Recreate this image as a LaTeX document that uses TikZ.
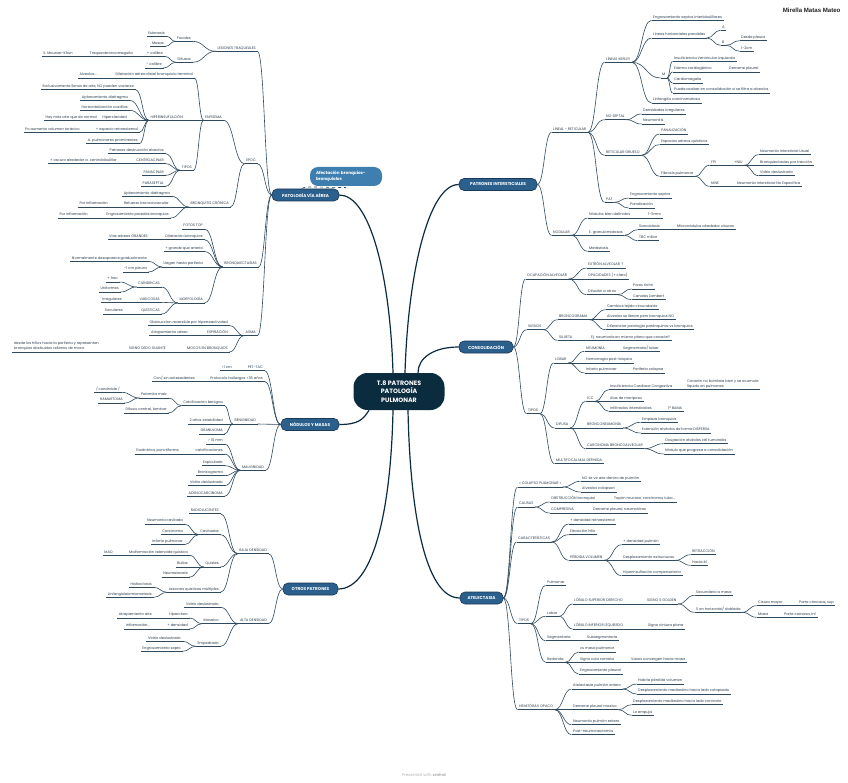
\documentclass[tikz,border=0pt]{standalone}
\usepackage{fontspec}
\setmainfont{Poppins}
\newfontfamily\namefont{Liberation Sans}
\newfontfamily\symfont{DejaVu Sans}
\usetikzlibrary{calc}
\definecolor{txt}{HTML}{2D3E4E}
\definecolor{lnc}{HTML}{2F4A5F}
\definecolor{topicfill}{HTML}{2B5F8C}
\definecolor{topicdraw}{HTML}{1B3A57}
\definecolor{rootfill}{HTML}{0B2B3F}
\definecolor{calfill}{HTML}{3F7FB0}
\definecolor{namec}{HTML}{222222}
\tikzset{
  uln/.style={draw=lnc, line width=0.6pt},
  con/.style={draw=lnc, line width=0.6pt},
  rcon/.style={draw=rootfill, line width=1.2pt},
  lf/.style={font=\fontsize{3.6}{4}\selectfont, text=txt, inner xsep=1.5pt, inner ysep=1.1pt,
    text height=2.6pt, text depth=0.8pt,
    append after command={(\tikzlastnode.south west) edge[uln] (\tikzlastnode.south east)}},
  lf2/.style={font=\fontsize{3.6}{5}\selectfont, text=txt, inner xsep=1.5pt, inner ysep=1.1pt, align=left,
    append after command={(\tikzlastnode.south west) edge[uln] (\tikzlastnode.south east)}},
  topic/.style={font=\fontsize{4.2}{5}\selectfont\bfseries, text=white, fill=topicfill, draw=topicdraw,
    line width=0.6pt, rounded corners=5pt, minimum height=12pt, inner xsep=4pt, inner ysep=1pt},
  rootbox/.style={font=\fontsize{6.3}{8.5}\selectfont\bfseries, text=white, fill=rootfill,
    rounded corners=14pt, minimum width=91pt, minimum height=37pt, align=center},
  callout/.style={font=\fontsize{4.2}{5.6}\selectfont\bfseries, text=white, fill=calfill,
    rounded corners=8pt, minimum height=19pt, text width=60pt, inner xsep=6pt, align=left},
}
\newcommand\nR[4]{\node[lf,anchor=south west] (#1) at ($(#2,#3)+(-1.5,3)$) {#4};}
\newcommand\nL[4]{\node[lf,anchor=south east] (#1) at ($(#2,#3)+(1.5,3)$) {#4};}
\newcommand\mmR[2]{\draw[con] let \p1=(#1), \p2=(#2.south west) in (\p1) .. controls ({(\x1+\x2)/2},\y1) and ({(\x1+\x2)/2},\y2) .. (\p2);}
\newcommand\mmL[2]{\draw[con] let \p1=(#1), \p2=(#2.south east) in (\p1) .. controls ({(\x1+\x2)/2},\y1) and ({(\x1+\x2)/2},\y2) .. (\p2);}
\begin{document}
\begin{tikzpicture}[x=1pt,y=-1pt]
\useasboundingbox (0,0) rectangle (848,783);
\fill[white] (0,0) rectangle (848,783);

% ---------- root and topics ----------
\node[rootbox] (root) at (399,391.5) {T.8 PATRONES\\PATOLOGÍA\\PULMONAR};
\node[topic, minimum width=67pt] (pva) at (305.5,195) {PATOLOGÍA VÍA AÉREA};
\node[topic, minimum width=78pt] (pi) at (498,184.5) {PATRONES INTERSTICIALES};
\node[topic, minimum width=54pt] (cons) at (486,347) {CONSOLIDACIÓN};
\node[topic, minimum width=58pt] (nm) at (310,424.5) {NÓDULOS Y MASAS};
\node[topic, minimum width=55pt] (op) at (310.5,589) {OTROS PATRONES};
\node[topic, minimum width=43pt] (at) at (481.5,598) {ATELECTASIA};

\draw[dashed, con] ([xshift=-3pt]pva.north) .. controls +(0,-3) and +(-25,0) .. (346,187.5) coordinate (dq);
\node[callout] (afec) at (346,176.5) {Afectación bronquios-\\bronquiolos};

\draw[rcon] (pva.east) .. controls +(30,0) and +(-3,-100) .. ([xshift=-6pt]root.north);
\draw[rcon] (pi.west) .. controls +(-30,0) and +(3,-100) .. ([xshift=6pt]root.north);
\draw[rcon] (cons.west) .. controls +(-25,0) and +(0,-15) .. ([xshift=19pt]root.north);
\draw[rcon] (nm.east) .. controls +(18,0) and +(-6,10) .. ([xshift=-30pt]root.south);
\draw[rcon] (op.east) .. controls +(35,0) and +(-2,100) .. ([xshift=-6pt]root.south);
\draw[rcon] (at.west) .. controls +(-35,0) and +(2,100) .. ([xshift=9pt]root.south);

% ---------- PATOLOGIA VIA AEREA ----------
\nL{lt}{256}{48.3}{LESIONES TRAQUEALES}
\nL{foc}{191}{38.3}{Focales}
\nL{est}{165}{33.3}{Estenosis}
\nL{mas}{164}{43.3}{Masas}
\nL{dif}{191}{59.3}{Difusas}
\nL{mc}{163}{53.3}{+ calibre}
\nL{tqm}{133}{53.3}{Traqueobroncomegalia}
\nL{smk}{73}{53.3}{S. Mounier-Khun}
\nL{mnc}{162}{65}{- calibre}
\nL{epoc}{256}{160.7}{EPOC}
\nL{enf}{222}{117.3}{ENFISEMA}
\nL{dad}{193}{75}{Dilatación aérea distal bronquiolo terminal}
\nL{alv}{97}{75}{Alveolos...}
\nL{hip}{183}{117.3}{HIPERINSUFLACIÓN}
\nL{exc}{134}{86.7}{Exclusivamente llenos de aire, NO pueden vaciarse}
\nL{apd}{128}{97.3}{Aplanamiento diafragma}
\nL{hzc}{128}{107.3}{Horizontalización costillas}
\nL{hcl}{127}{117.3}{Hiperclaridad}
\nL{hma}{97}{117.3}{Hay más aire que de normal}
\nL{ere}{138}{129.3}{+ espacio retroesternal}
\nL{pav}{80}{129.3}{Po aumento volumen torácico}
\nL{apm}{138}{140.7}{A. pulmonares prominentes}
\nL{tip}{192}{167.3}{TIPOS}
\nL{pda}{164}{150.7}{Patrones destrucción alveolos}
\nL{cen}{164}{160.7}{CENTROACINAR}
\nL{osc}{117}{160.7}{+ oscuro alrededor a. centrolobulillar}
\nL{pan}{164}{172.3}{PANACINAR}
\nL{par}{164}{183.3}{PARASEPTAL}
\nL{bc}{229}{204}{BRONQUITIS CRÓNICA}
\nL{apd2}{170}{193.3}{Aplanamiento diafragma}
\nL{rbv}{169}{204}{Refuerzo broncovascular}
\nL{pin1}{108}{204}{Por inflamación}
\nL{epb}{169}{215}{Engrosamiento paredes bronquios}
\nL{pin2}{88}{215}{Por inflamación}
\nL{bq}{257}{264}{BRONQUIECTASIAS}
\nL{ftop}{203}{226}{FOTOS TOP}
\nL{dbr}{203}{236.7}{Dilatación bronquios}
\nL{vag}{148}{236.7}{Vías aéreas GRANDES}
\nL{gqa}{203}{248.5}{+ grande que arteria}
\nL{lhp}{203}{264}{Llegan hasta periferia}
\nL{nda}{147}{258.3}{Normalmente desaparece gradualmente}
\nL{cmp}{147}{269}{-1 cm pleura}
\nL{mor}{203}{300}{MORFOLOGÍA}
\nL{cil}{160}{284}{CILÍNDRICAS}
\nL{frc}{118}{279}{+ frec}
\nL{uni}{119}{289}{Uniformes}
\nL{var}{160}{299.3}{VARICOSAS}
\nL{irr}{122}{299.3}{Irregulares}
\nL{qui}{160}{311}{QUÍSTICAS}
\nL{sac}{123}{311}{Saculares}
\nL{asma}{256}{332.7}{ASMA}
\nL{obs}{228}{322.7}{Obstruccion reversible por hiperreactividad}
\nL{esp}{228}{332.7}{ESPIRACIÓN}
\nL{ata}{188}{332.7}{Atrapamiento aéreo}
\nL{mcb}{228}{349}{MOCOS EN BRONQUIOS}
\nL{sdg}{166}{349}{SIGNO DEDO GUANTE}
\node[lf2,anchor=south east] (dlh) at ($(99,349)+(1.5,3)$) {desde los hilios hacia la periferia y representan\\bronquios obstruidos rellenos de moco};

% ---------- NODULOS Y MASAS ----------
\nL{pet}{263}{367.7}{PET-TAC}
\nL{lone}{232}{367.7}{<1 cm}
\nL{pro}{263}{378.3}{Protocolo hallazgos <35 años}
\nL{csa}{195}{378.3}{Con/ sin antecedentes}
\nL{ben}{256}{421}{BENIGNIDAD}
\nL{cab}{223}{402.7}{Calcificación benigna}
\nL{pal}{167}{395}{Palomita maíz}
\nL{cond}{120}{389.3}{/ condroide /}
\nL{ham}{123}{400}{HAMARTOMA}
\nL{dcl}{167}{410}{Difusa, central, laminar}
\nL{dae}{223}{421}{2 años estabilidad}
\nL{gra}{223}{431}{GRANULOMA}
\nL{mal}{264}{467.3}{MALIGNIDAD}
\nL{mten}{223}{441}{> 10 mm}
\nL{calc}{223}{451}{calcificaciones}
\nL{exq}{179}{451}{Excéntrica, punctiforme}
\nL{espi}{223}{462.7}{Espiculado}
\nL{bro}{223}{472.7}{Broncograma}
\nL{vdl}{223}{482.7}{Vidrio deslustrado}
\nL{ade}{223}{493.3}{ADENOCARCINOMA}

% ---------- OTROS PATRONES ----------
\nL{baja}{267}{550.7}{BAJA DENSIDAD}
\nL{rad}{219}{510.7}{RADIOLUCENTES}
\nL{cav}{219}{531.7}{Cavitadas}
\nL{nca}{183}{521}{Neumonía cavitada}
\nL{car}{183}{531.7}{Carcinoma}
\nL{ipu}{183}{541.7}{Infarto pulmonar}
\nL{qst}{219}{564}{Quistes}
\nL{maq}{188}{552.3}{Malformación adenoide quística}
\nL{maqb}{113}{552.3}{MAQ}
\nL{bul}{188}{564}{Bullas}
\nL{nea}{188}{574}{Neumatocele}
\nL{lqm}{219}{589.3}{Lesiones quísticas múltiples}
\nL{his}{152}{584.3}{Histiocitosis}
\nL{lam}{152}{594.3}{Linfangioleiomiomatosis}
\nL{alta}{267}{620.7}{ALTA DENSIDAD}
\nL{vdb}{219}{604.3}{Vidrio deslustrado}
\nL{mos}{219}{620.7}{Mosaico}
\nL{hcc}{188}{615}{Hiperclaro}
\nL{atr}{152}{615}{Atrapamiento aire}
\nL{mden}{188}{626}{+ densidad}
\nL{infl}{150}{626}{Inflamación...}
\nL{emp}{219}{643.3}{Empedrado}
\nL{vdc}{181}{638.3}{Vidrio deslustrado}
\nL{egs}{181}{648.3}{Engrosamiento septo}

% ---------- PATRONES INTERSTICIALES ----------
\nR{lr}{553}{129.3}{LINEAL - RETICULAR}
\nR{lk}{606}{59.3}{LÍNEAS KERLEY}
\nR{esi}{653}{17.3}{Engrosamiento septos interlobulillares}
\nR{lhpar}{653}{35}{Líneas horizontales paralelas}
\nR{ka}{722}{27.3}{A}
\nR{kb}{722}{42.3}{B}
\nR{dpl}{741}{37.7}{Desde pleura}
\nR{ktwo}{741}{48.3}{1-2cm}
\nR{km}{662}{75}{M}
\nR{ivi}{674}{58.3}{Insuficiencia Ventricular Izquierda}
\nR{ecg}{674}{69}{Edema cardiogénico}
\nR{dplb}{729}{69}{Derrame pleural}
\nR{cmg}{674}{80}{Cardiomegalia}
\nR{pac}{674}{90}{Puede acabar en consolidación si se filtra a alveolos}
\nR{lfc}{653}{100}{Linfangitis carcinomatosa}
\nR{nos}{606}{116.7}{NO SEPTAL}
\nR{dir}{643}{111}{Densidades irregulares}
\nR{neu}{643}{121}{Neumonitis}
\nR{rg}{606}{152.3}{RETICULAR GRUESO}
\nR{pnz}{661}{131}{PANALIZACIÓN}
\nR{eaq}{661}{141.7}{Espacios aéreos quísticos}
\nR{fp}{661}{173.3}{Fibrosis pulmonar}
\nR{fpi}{711}{162.3}{FPI}
\nR{niu}{734}{162.3}{+NIU}
\nR{niuu}{760}{151.7}{Neumonía Intersticial Usual}
\nR{bpt}{760}{162.3}{Bronquiectasias por tracción}
\nR{vdd}{760}{172.7}{Vidrio deslustrado}
\nR{nine}{711}{183.3}{NINE}
\nR{ninf}{737}{183.3}{Neumonía Intersticial No Específica}
\nR{pat}{606}{199.3}{PAT}
\nR{esb}{630}{195}{Engrosamiento septos}
\nR{pzb}{630}{205}{Panalización}
\nR{nod}{553}{232.3}{NODULAR}
\nR{nbd}{589}{215}{Nódulos bien definidos}
\nR{nfive}{648}{215}{1-5mm}
\nR{egr}{589}{232.3}{E. granulomatosas}
\nR{sar}{639}{226.7}{Sarcoidosis}
\nR{mac}{677}{226.7}{Micronódulos alrededor cisuras}
\nR{tbc}{639}{237.7}{TBC miliar}
\nR{met}{589}{248.3}{Metástasis}

% ---------- CONSOLIDACION ----------
\nR{oa}{527}{276}{OCUPACIÓN ALVEOLAR}
\nR{ext}{588}{265}{EXTRÓN ALVEOLAR {\symfont ↑}}
\nR{opa}{588}{276}{OPACIDADES (+ claro)}
\nR{dao}{588}{291.7}{Difusión a otros}
\nR{pk}{633}{286}{Poros Kohn}
\nR{cl}{633}{296.7}{Canales Lambert}
\nR{sig}{528}{326.7}{SIGNOS}
\nR{bg}{559}{316.7}{BRONCOGRAMA}
\nR{ctc}{607}{306.7}{Cambios tejido circundante}
\nR{alb}{607}{316.7}{Alveolos se llenan pero bronquios NO}
\nR{dpp}{607}{326.7}{Diferenciar patología parénquima vs bronquios}
\nR{sil}{559}{337.3}{SILUETA}
\nR{ejn}{591}{337.3}{Ej. neumonía en mismo plano que corazón?}
\nR{tipc}{528}{410.7}{TIPOS}
\nR{lob}{555}{360}{LOBAR}
\nR{neum}{586}{348.3}{NEUMONÍA}
\nR{sgl}{623}{348.3}{Segmentaria/ lobar}
\nR{hpb}{586}{360}{Hemorragia post-biopsia}
\nR{ipc}{586}{370}{Infarto pulmonar}
\nR{pco}{633}{370}{Periferia colapsa}
\nR{difu}{556}{425}{DIFUSA}
\nR{icc}{587}{398.3}{ICC}
\nR{icco}{610}{386.7}{Insuficiencia Cardíaca Congestiva}
\node[lf2,anchor=south west] (cnb) at ($(687,386.7)+(-1.5,3)$) {Corazón no bombea bien y se acumula\\líquido en pulmones};
\nR{alm}{610}{398.3}{Alas de mariposa}
\nR{iin}{610}{408.3}{Infiltrados intersticiales}
\nR{bama}{668}{408.3}{1ª BAMA}
\nR{bn}{587}{425}{BRONCONEUMONÍA}
\nR{ebr}{642}{419.3}{Empieza bronquios}
\nR{ead}{642}{430}{Extensión alvéolos de forma DISPERSA}
\nR{cba}{587}{445.7}{CARCINOMA BRONCOALVEOLAR}
\nR{oac}{665}{440.7}{Ocupación alvéolos cél tumorales}
\nR{nqp}{665}{451}{Nódulo que progresa a consolidación}
\nR{mmd}{556}{460.7}{MULTIFOCAL MAL DEFINIDA}

% ---------- ATELECTASIA ----------
\nR{col}{519}{484}{« COLAPSO PULMONAR »}
\nR{nsv}{582}{478.3}{NO se ve aire dentro de pulmón}
\nR{acol}{582}{489}{Alveolos colapsan}
\nR{cau}{519}{504}{CAUSAS}
\nR{obr}{551}{499}{OBSTRUCCIÓN bronquial}
\nR{tmc}{614}{499}{Tapón mucoso, carcinoma, tubo...}
\nR{cmpv}{551}{510}{COMPRESIVA}
\nR{dpn}{593}{510}{Derrame pleural, neumotórax}
\nR{crt}{518}{539}{CARACTERÍSTICAS}
\nR{dre}{570}{521}{+ densidad retroesternal}
\nR{elh}{570}{531.7}{Elevación hilio}
\nR{pvol}{570}{557.3}{PÉRDIDA VOLUMEN}
\nR{dpu}{623}{541.7}{+ densidad pulmón}
\nR{des}{623}{557.3}{Desplazamiento estructuras}
\nR{ret}{692}{551.7}{RETRACCIÓN}
\nR{hel}{692}{562.3}{Hacia él}
\nR{hcomp}{623}{572.7}{Hiperinsuflación compensatoria}
\nR{tipa}{519}{620.7}{TIPOS}
\nR{pul}{547}{582.3}{Pulmonar}
\nR{lbr}{547}{613.3}{Lobar}
\nR{lsd}{574}{601}{LÓBULO SUPERIOR DERECHO}
\nR{ssg}{647}{601}{SIGNO S GOLDEN}
\nR{sam}{696}{592.3}{Secundario a masa}
\nR{shd}{696}{609.3}{S en horizontal/ doblada}
\nR{cim}{758}{602.7}{Cisura mayor}
\nR{pcs}{799}{602.7}{Parte cóncava, sup}
\nR{masa}{758}{614.3}{Masa}
\nR{pcx}{784}{614.3}{Parte convexa, inf}
\nR{lii}{574}{626}{LÓBULO INFERIOR IZQUIERDO}
\nR{scp}{648}{626}{Signo cintura plana}
\nR{seg}{547}{637.7}{Segmentaria}
\nR{sseg}{587}{637.7}{Subsegmentaria}
\nR{red}{547}{659.3}{Redonda}
\nR{vmp}{580}{649}{vs masa pulmonar}
\nR{scc}{580}{659.3}{Signo cola cometa}
\nR{vch}{631}{659.3}{Vasos convergen hacia masa}
\nR{epl}{580}{671}{Engrosamiento pleural}
\nR{hop}{519}{706.7}{HEMITÓRAX OPACO}
\nR{apu}{573}{686}{Atelectasia pulmón entero}
\nR{hpv}{638}{681}{Habría pérdida volumen}
\nR{dmc}{638}{691}{Desplazamiento mediastino hacia lado colapsado}
\nR{dpm}{573}{706.7}{Derrame pleural masivo}
\nR{dmcb}{633}{701.7}{Desplazamiento mediastino hacia lado contrario}
\nR{lem}{633}{712.3}{Lo empuja}
\nR{npe}{573}{721.7}{Neumonía pulmón entero}
\nR{pne}{573}{731.7}{Post-neumonectomía}

% ---------- connectors ----------
\foreach \b in {lt,epoc,bq,asma} {\mmL{pva.west}{\b}}
\foreach \b in {pet,pro,ben,mal} {\mmL{nm.west}{\b}}
\foreach \b in {baja,alta} {\mmL{op.west}{\b}}
\foreach \a/\b in {lt/foc,lt/dif,foc/est,foc/mas,dif/mc,dif/mnc,mc/tqm,tqm/smk,
  epoc/enf,epoc/bc,enf/dad,enf/hip,enf/tip,dad/alv,
  hip/exc,hip/apd,hip/hzc,hip/hcl,hip/ere,hip/apm,hcl/hma,ere/pav,
  tip/pda,tip/cen,tip/pan,tip/par,cen/osc,
  bc/apd2,bc/rbv,bc/epb,rbv/pin1,epb/pin2,
  bq/ftop,bq/dbr,bq/gqa,bq/lhp,bq/mor,dbr/vag,lhp/nda,lhp/cmp,
  mor/cil,mor/var,mor/qui,cil/frc,cil/uni,var/irr,qui/sac,
  asma/obs,asma/esp,asma/mcb,esp/ata,mcb/sdg,sdg/dlh,
  pet/lone,pro/csa,ben/cab,ben/dae,ben/gra,cab/pal,cab/dcl,pal/cond,pal/ham,
  mal/mten,mal/calc,mal/espi,mal/bro,mal/vdl,mal/ade,calc/exq,
  baja/rad,baja/cav,baja/qst,baja/lqm,cav/nca,cav/car,cav/ipu,
  qst/maq,qst/bul,qst/nea,maq/maqb,lqm/his,lqm/lam,
  alta/vdb,alta/mos,alta/emp,mos/hcc,mos/mden,hcc/atr,mden/infl,emp/vdc,emp/egs}
  {\mmL{\a.south west}{\b}}

\foreach \b in {lr,nod} {\mmR{pi.east}{\b}}
\foreach \b in {oa,sig,tipc} {\mmR{cons.east}{\b}}
\foreach \b in {col,cau,crt,tipa,hop} {\mmR{at.east}{\b}}
\foreach \a/\b in {lr/lk,lr/nos,lr/rg,lr/pat,
  lk/esi,lk/lhpar,lk/km,lk/lfc,lhpar/ka,lhpar/kb,kb/dpl,kb/ktwo,
  km/ivi,km/ecg,km/cmg,km/pac,ecg/dplb,nos/dir,nos/neu,
  rg/pnz,rg/eaq,rg/fp,fp/fpi,fp/nine,fpi/niu,niu/niuu,niu/bpt,niu/vdd,nine/ninf,
  pat/esb,pat/pzb,nod/nbd,nod/egr,nod/met,nbd/nfive,egr/sar,egr/tbc,sar/mac,
  oa/ext,oa/opa,oa/dao,dao/pk,dao/cl,sig/bg,sig/sil,bg/ctc,bg/alb,bg/dpp,sil/ejn,
  tipc/lob,tipc/difu,tipc/mmd,lob/neum,lob/hpb,lob/ipc,neum/sgl,ipc/pco,
  difu/icc,difu/bn,difu/cba,icc/icco,icc/alm,icc/iin,icco/cnb,iin/bama,
  bn/ebr,bn/ead,cba/oac,cba/nqp,
  col/nsv,col/acol,cau/obr,cau/cmpv,obr/tmc,cmpv/dpn,
  crt/dre,crt/elh,crt/pvol,pvol/dpu,pvol/des,pvol/hcomp,des/ret,des/hel,
  tipa/pul,tipa/lbr,tipa/seg,tipa/red,lbr/lsd,lbr/lii,lsd/ssg,ssg/sam,ssg/shd,
  shd/cim,shd/masa,cim/pcs,masa/pcx,lii/scp,seg/sseg,
  red/vmp,red/scc,red/epl,scc/vch,
  hop/apu,hop/dpm,hop/npe,hop/pne,apu/hpv,apu/dmc,dpm/dmcb,dpm/lem}
  {\mmR{\a.south east}{\b}}

% ---------- extra texts ----------
\node[font={\namefont\bfseries\fontsize{6.1}{7}\selectfont}, text=namec, anchor=east] (author) at (844,10) {Mirella Matas Mateo};
\node[font=\fontsize{4}{5}\selectfont, text=black!30] (pres) at (424,775) {Presented with {\bfseries xmind}};
\end{tikzpicture}
\end{document}
